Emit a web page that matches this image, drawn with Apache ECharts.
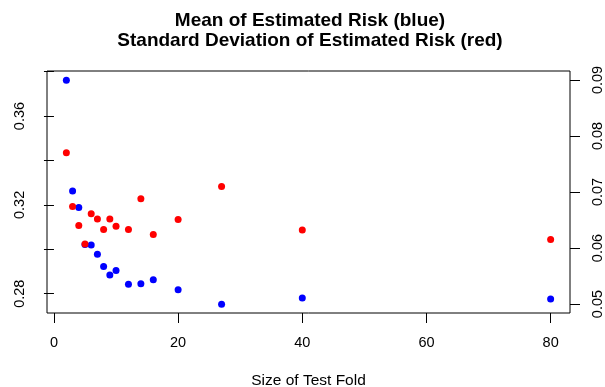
<!DOCTYPE html>
<html>
<head>
<meta charset="utf-8">
<script src="https://cdn.jsdelivr.net/npm/echarts@6/dist/echarts.min.js"></script>
<style>
    html, body { margin: 0; padding: 0; background: #fff; }
    #chart { width: 605px; height: 387px; }
</style>
</head>
<body>
<div id="chart"></div>
<script>
// size of the test fold (x) and the two estimated-risk statistics
var foldSize = [2, 3, 4, 5, 6, 7, 8, 9, 10, 12, 14, 16, 20, 27, 40, 80];
var meanRisk = [0.3761, 0.3263, 0.3188, 0.3021, 0.3019, 0.2978, 0.2922, 0.2884,
                0.2904, 0.2842, 0.2845, 0.2863, 0.2818, 0.2752, 0.2780, 0.2776];
var sdRisk = [0.0770, 0.0674, 0.0640, 0.0607, 0.0661, 0.0652, 0.0633, 0.0652,
              0.0639, 0.0633, 0.0688, 0.0624, 0.0651, 0.0710, 0.0632, 0.0615];

var xTicks = [0, 20, 40, 60, 80];
var meanTicks = [0.28, 0.30, 0.32, 0.34, 0.36, 0.38];
var meanLabels = [0.28, 0.32, 0.36];
var sdTicks = [0.05, 0.06, 0.07, 0.08, 0.09];

var font = '"Liberation Sans", Arial, Helvetica, sans-serif';

var chart = echarts.init(document.getElementById('chart'));

function pairs(xs, ys) {
    return xs.map(function (x, i) { return [x, ys[i]]; });
}

var tickStyle = {show: true, inside: false, length: 10, lineStyle: {color: '#000', width: 1}};
var labelStyle = {color: '#000', fontSize: 14.5, fontFamily: font};

var option = {
    animation: false,
    backgroundColor: '#fff',
    title: {
        text: 'Mean of Estimated Risk (blue)\nStandard Deviation of Estimated Risk (red)',
        left: 310,
        top: 11,
        padding: 0,
        textAlign: 'center',
        textStyle: {
            color: '#000',
            fontSize: 19,
            fontWeight: 'bold',
            fontFamily: font,
            lineHeight: 20
        }
    },
    grid: {
        left: 47, right: 35, top: 71, bottom: 74,
        outerBoundsMode: 'none',
        containLabel: false,
        show: true, borderColor: '#000', borderWidth: 1,
        backgroundColor: 'transparent'
    },
    xAxis: {
        type: 'value',
        min: -1.12,
        max: 83.12,
        name: 'Size of Test Fold',
        nameLocation: 'middle',
        nameGap: 60,
        nameTextStyle: {color: '#000', fontSize: 15.5, fontFamily: font},
        axisLine: {show: false},
        axisTick: Object.assign({customValues: xTicks}, tickStyle),
        axisLabel: Object.assign({customValues: xTicks, margin: 22, showMinLabel: true, showMaxLabel: true}, labelStyle),
        splitLine: {show: false}
    },
    yAxis: [
        {
            type: 'value',
            position: 'left',
            min: 0.2713,
            max: 0.3803,
            axisLine: {show: false},
            axisTick: Object.assign({customValues: meanTicks}, tickStyle),
            axisLabel: Object.assign({
                customValues: meanLabels,
                rotate: 90,
                margin: 20,
                formatter: function (v) { return v.toFixed(2); }
            }, labelStyle),
            splitLine: {show: false}
        },
        {
            type: 'value',
            position: 'right',
            min: 0.0484,
            max: 0.0916,
            axisLine: {show: false},
            axisTick: Object.assign({customValues: sdTicks}, tickStyle),
            axisLabel: Object.assign({
                customValues: sdTicks,
                rotate: 90,
                margin: 20,
                formatter: function (v) { return v.toFixed(2); }
            }, labelStyle),
            splitLine: {show: false}
        }
    ],
    series: [
        {
            name: 'Mean',
            type: 'scatter',
            yAxisIndex: 0,
            symbol: 'circle',
            symbolSize: 7,
            itemStyle: {color: '#0000ff', opacity: 1},
            data: pairs(foldSize, meanRisk)
        },
        {
            name: 'SD',
            type: 'scatter',
            yAxisIndex: 1,
            symbol: 'circle',
            symbolSize: 7,
            itemStyle: {color: '#ff0000', opacity: 1},
            data: pairs(foldSize, sdRisk)
        }
    ]
};

chart.setOption(option);
</script>
</body>
</html>
